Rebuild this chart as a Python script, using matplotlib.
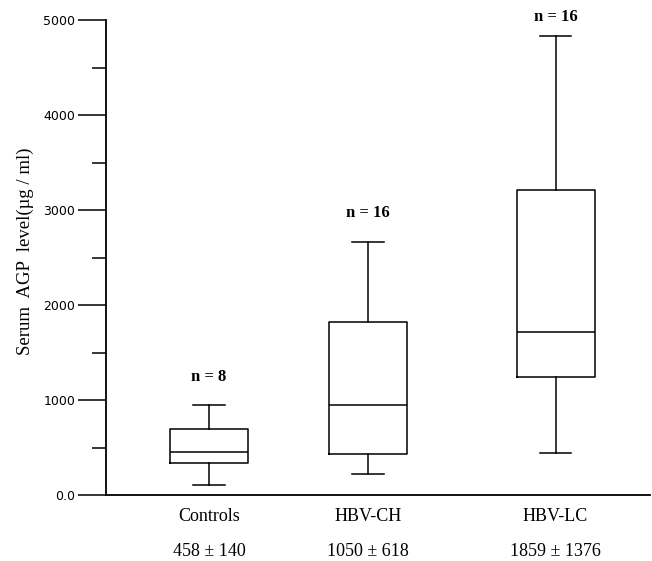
import matplotlib.pyplot as plt
from matplotlib.transforms import blended_transform_factory

# Box summary values (ug/ml)
groups = ['Controls', 'HBV-CH', 'HBV-LC']
whisker_low = [105, 221, 442]
q1 = [337, 432, 1242]
medians = [453, 947, 1716]
q3 = [695, 1821, 3210]
whisker_high = [947, 2663, 4832]
n_labels = ['n = 8', 'n = 16', 'n = 16']
mean_sd = ['458 \u00b1 140', '1050 \u00b1 618', '1859 \u00b1 1376']

positions = [1.0, 2.0, 3.18]
n_offsets = [28, 29, 19]  # pixels above whisker cap

stats = []
for i, g in enumerate(groups):
    stats.append({'label': g, 'whislo': whisker_low[i], 'q1': q1[i], 'med': medians[i],
                  'q3': q3[i], 'whishi': whisker_high[i], 'fliers': []})

fig = plt.figure(figsize=(6.52, 5.61), dpi=100)
ax = fig.add_axes([106 / 652, 66 / 561, 544 / 652, 475 / 561])

lw = 1.1
ax.bxp(stats, positions=positions, widths=0.49, capwidths=0.2, showfliers=False,
       boxprops=dict(color='black', linewidth=lw),
       medianprops=dict(color='black', linewidth=lw),
       whiskerprops=dict(color='black', linewidth=lw),
       capprops=dict(color='black', linewidth=lw))

ax.set_xlim(0.352, 3.774)
ax.set_ylim(0, 5000)

ax.spines['top'].set_visible(False)
ax.spines['right'].set_visible(False)
ax.spines['left'].set_linewidth(1.3)
ax.spines['bottom'].set_linewidth(1.3)

ax.set_yticks([0, 1000, 2000, 3000, 4000, 5000])
ax.set_yticklabels(['0.0', '1000', '2000', '3000', '4000', '5000'],
                   fontfamily='DejaVu Sans', fontsize=9)
ax.set_yticks([500, 1500, 2500, 3500, 4500], minor=True)
ax.tick_params(axis='y', which='major', length=20, width=1.1, direction='out', pad=2)
ax.tick_params(axis='y', which='minor', length=10, width=1.1, direction='out')
ax.set_xticks([])

ax.set_ylabel('Serum  AGP  level(\u00b5g / ml)', fontfamily='Liberation Serif', fontsize=13.5,
              va='center')
ax.yaxis.set_label_coords(-0.149, 0.514)

trans = blended_transform_factory(ax.transData, ax.transAxes)
for p, g, ms in zip(positions, groups, mean_sd):
    ax.text(p, -0.046, g, transform=trans, ha='center', va='center',
            fontfamily='Liberation Serif', fontsize=13)
    ax.text(p, -0.118, ms, transform=trans, ha='center', va='center',
            fontfamily='Liberation Serif', fontsize=13)

for p, hi, lab, off in zip(positions, whisker_high, n_labels, n_offsets):
    ax.annotate(lab, (p, hi), xytext=(0, off), textcoords='offset pixels',
                ha='center', va='center', fontfamily='Liberation Serif',
                fontweight='bold', fontsize=12, annotation_clip=False)

fig.savefig('out.png', dpi=100)
